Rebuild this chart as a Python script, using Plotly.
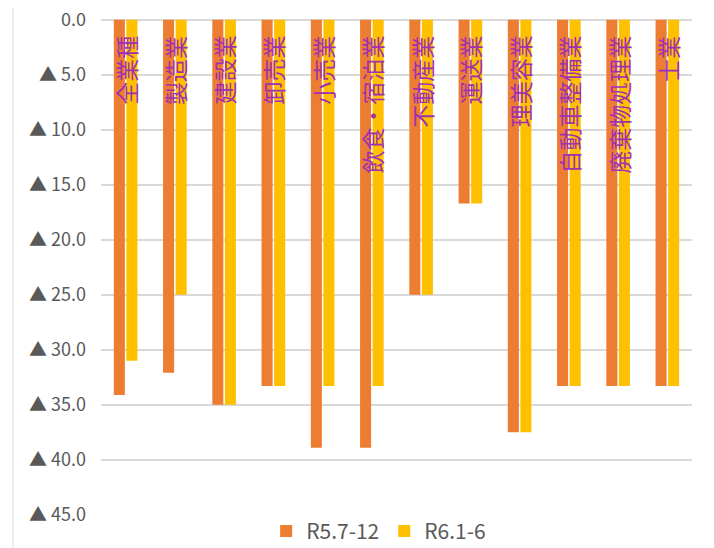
import plotly.graph_objects as go

categories = ["全業種", "製造業", "建設業", "卸売業", "小売業", "飲食・宿泊業",
              "不動産業", "運送業", "理美容業", "自動車整備業", "廃棄物処理業", "士業"]
r5_values = [34.1, 32.1, 35.0, 33.3, 38.9, 38.9, 25.0, 16.7, 37.5, 33.3, 33.3, 33.3]
r6_values = [31.0, 25.0, 35.0, 33.3, 33.3, 33.3, 25.0, 16.7, 37.5, 33.3, 33.3, 33.3]
series_names = ["R5.7-12", "R6.1-6"]
tick_vals = [0, 5, 10, 15, 20, 25, 30, 35, 40, 45]
tick_text = ["0.0"] + ["▲ %.1f" % v for v in tick_vals[1:]]

FONT = "Noto Sans CJK JP"
fig = go.Figure()
fig.add_trace(go.Bar(x=categories, y=r5_values, name=series_names[0],
                     marker=dict(color="#ED7D31", line=dict(width=0))))
fig.add_trace(go.Bar(x=categories, y=r6_values, name=series_names[1],
                     marker=dict(color="#FFC000", line=dict(width=0))))

annotations = []
for c in categories:
    annotations.append(dict(x=c, y=1.25, xref="x", yref="y", text=c, textangle=-90,
                            showarrow=False, xanchor="center", yanchor="top",
                            font=dict(family=FONT, size=23, color="#A030B0")))

shapes = [
    dict(type="line", xref="paper", yref="paper", x0=-0.149, x1=-0.149, y0=-0.1, y1=1.1,
         line=dict(color="#D9D9D9", width=1)),
    dict(type="line", xref="paper", yref="paper", x0=1.032, x1=1.032, y0=-0.1, y1=1.1,
         line=dict(color="#D9D9D9", width=1)),
]

fig.update_layout(
    width=706, height=540,
    margin=dict(l=93, r=22, t=10, b=33, autoexpand=False),
    paper_bgcolor="white", plot_bgcolor="white",
    barmode="group", bargap=0.49, bargroupgap=0.12,
    font=dict(family=FONT, color="#595959"),
    showlegend=True,
    legend=dict(orientation="h", x=0.525, xanchor="center", xref="container",
                y=0.031, yanchor="middle", yref="container",
                font=dict(family=FONT, size=21, color="#595959"), itemwidth=30,
                tracegroupgap=0),
    annotations=annotations,
    shapes=shapes,
)
fig.update_xaxes(showticklabels=False, showgrid=False, zeroline=False, showline=False)
fig.update_yaxes(range=[45.02, -0.16], tickvals=tick_vals, ticktext=tick_text, automargin=False,
                 showgrid=True, gridcolor="#D9D9D9", gridwidth=1.5, zeroline=False,
                 showline=False, ticks="", ticklabelstandoff=14, ticklabeloverflow="allow",
                 tickfont=dict(family=FONT, size=18, color="#595959"))

fig.write_html("out.html")
